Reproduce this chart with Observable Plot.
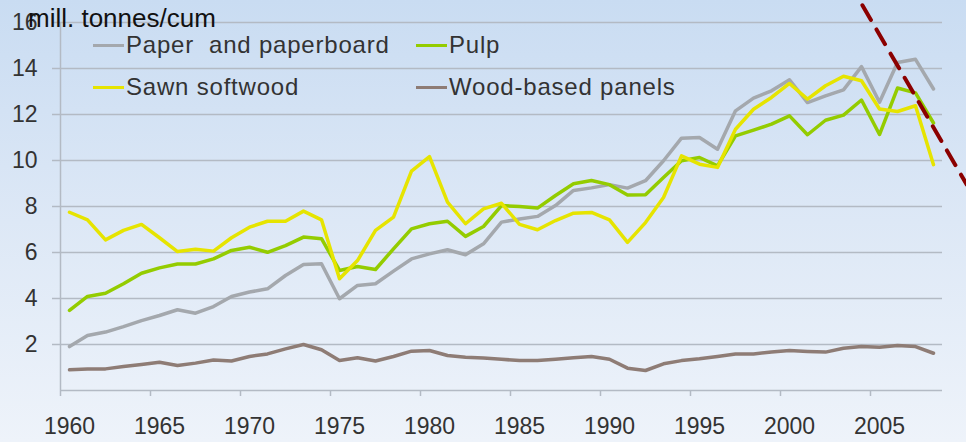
<!DOCTYPE html>
<html><head><meta charset="utf-8">
<script src="https://cdn.jsdelivr.net/npm/d3@7"></script>
<script src="https://cdn.jsdelivr.net/npm/@observablehq/plot@0.6"></script>
<style>
html,body{margin:0;padding:0;}
body{width:966px;height:442px;overflow:hidden;background:linear-gradient(180deg,#c9dcf2 0%,#dde8f6 50%,#eef3fa 100%);font-family:"Liberation Sans",Arial,sans-serif;}
#wrap{position:relative;width:966px;height:442px;}
#chart svg{display:block;background:transparent;}
.title{position:absolute;left:28px;top:5px;font-size:26px;line-height:26px;color:#111;white-space:pre;}
.leg{position:absolute;font-size:24px;line-height:24px;letter-spacing:0.8px;color:#333;white-space:pre;}
.sw{position:absolute;height:3px;width:31px;}
</style></head>
<body><div id="wrap"><div id="chart"></div></div>
<script>
const years = [1960,1961,1962,1963,1964,1965,1966,1967,1968,1969,
  1970,1971,1972,1973,1974,1975,1976,1977,1978,1979,
  1980,1981,1982,1983,1984,1985,1986,1987,1988,1989,
  1990,1991,1992,1993,1994,1995,1996,1997,1998,1999,
  2000,2001,2002,2003,2004,2005,2006,2007,2008];
const paper = [1.91,2.39,2.54,2.78,3.04,3.26,3.51,3.36,3.65,4.09,
  4.28,4.42,5.0,5.48,5.51,3.99,4.57,4.64,5.19,5.72,
  5.94,6.12,5.9,6.38,7.32,7.46,7.57,8.04,8.7,8.81,
  8.95,8.8,9.12,9.99,10.97,11.0,10.49,12.16,12.71,13.03,
  13.51,12.52,12.81,13.07,14.08,12.53,14.26,14.4,13.11];
const pulp = [3.48,4.09,4.23,4.64,5.1,5.33,5.5,5.5,5.72,6.09,
  6.23,6.01,6.3,6.67,6.6,5.22,5.39,5.26,6.16,7.03,
  7.25,7.36,6.7,7.13,8.04,8.0,7.93,8.48,8.99,9.13,
  8.95,8.5,8.51,9.26,9.99,10.13,9.77,11.07,11.32,11.58,
  11.94,11.12,11.75,11.97,12.63,11.13,13.15,12.94,11.63];
const sawn = [7.75,7.42,6.55,6.96,7.22,6.64,6.04,6.14,6.06,6.64,
  7.1,7.36,7.36,7.8,7.42,4.86,5.65,6.96,7.54,9.54,
  10.17,8.19,7.25,7.9,8.14,7.22,6.99,7.39,7.71,7.74,
  7.42,6.44,7.3,8.39,10.2,9.84,9.7,11.36,12.23,12.74,
  13.35,12.67,13.25,13.66,13.47,12.24,12.13,12.38,9.82];
const panels = [0.9,0.94,0.94,1.04,1.13,1.23,1.09,1.19,1.33,1.28,
  1.48,1.59,1.81,2.0,1.77,1.3,1.42,1.28,1.48,1.71,
  1.74,1.52,1.45,1.41,1.36,1.3,1.3,1.36,1.42,1.48,
  1.36,0.97,0.87,1.16,1.3,1.38,1.48,1.59,1.59,1.67,
  1.74,1.7,1.67,1.84,1.91,1.88,1.96,1.91,1.62];
const seriesNames = ["Paper  and paperboard","Pulp","Sawn softwood","Wood-based panels"];
const seriesColors = ["#a4a8ad","#94cc00","#e6e400","#8e7c75"];
const xTickLabels = [1960,1965,1970,1975,1980,1985,1990,1995,2000,2005];
const yTickLabels = [2,4,6,8,10,12,14,16];
const unitLabel = "mill. tonnes/cum";
// annotation: dashed trend arrow (year, value)
const dashYears = [2004.05, 2009.85];
const dashValues = [16.75, 8.95];

const seriesValues = [paper, pulp, sawn, panels];
const rows = seriesNames.flatMap((name, s) => years.map((yr, i) => ({year: yr, value: seriesValues[s][i], series: name})));
const dash = dashYears.map((d, i) => ({year: d, value: dashValues[i]}));
const boundaries = xTickLabels.map(d => d - 0.5);
const gridColor = "#b3bac4";

const chart = Plot.plot({
  width: 966, height: 442,
  marginLeft: 60, marginRight: 24, marginTop: 22, marginBottom: 52,
  style: {background: "transparent", fontFamily: "Liberation Sans, Arial, sans-serif", fontSize: "23px", color: "#333"},
  x: {domain: [years[0] - 0.5, years[years.length - 1] + 0.5]},
  y: {domain: [0, 16]},
  color: {domain: seriesNames, range: seriesColors},
  marks: [
    Plot.gridY(yTickLabels, {stroke: gridColor, strokeOpacity: 1, strokeWidth: 1.5}),
    Plot.ruleY([0], {stroke: gridColor, strokeWidth: 1.5}),
    Plot.ruleX([years[0] - 0.5], {stroke: gridColor, strokeWidth: 1.5}),
    Plot.axisY(yTickLabels, {tickSize: 8, tickPadding: 15, stroke: gridColor, strokeWidth: 1.5, fill: "#333", fontSize: 23, label: null}),
    Plot.axisX(xTickLabels, {tickSize: 0, tickPadding: 27, fill: "#333", fontSize: 23, label: null, tickFormat: d => String(d)}),
    Plot.axisX(boundaries, {tickSize: 6, stroke: gridColor, strokeWidth: 1.5, tickFormat: () => "", label: null}),
    Plot.line(rows, {x: "year", y: "value", z: "series", stroke: "series", strokeWidth: 3.5, strokeLinejoin: "round"}),
    Plot.line(dash, {x: "year", y: "value", stroke: "#8b0000", strokeWidth: 4, strokeDasharray: "17,11"})
  ]
});
const wrap = document.getElementById("wrap");
document.getElementById("chart").appendChild(chart);

const t = document.createElement("div");
t.className = "title"; t.textContent = unitLabel; wrap.appendChild(t);

// legend layout: 2 columns x 2 rows
const legPos = [[93, 45], [416, 45], [93, 87], [416, 87]];
seriesNames.forEach((name, i) => {
  const [lx, ly] = legPos[i];
  const sw = document.createElement("div");
  sw.className = "sw"; sw.style.left = lx + "px"; sw.style.top = (ly - 1.5) + "px"; sw.style.background = seriesColors[i];
  wrap.appendChild(sw);
  const tx = document.createElement("div");
  tx.className = "leg"; tx.textContent = name; tx.style.left = (lx + 33) + "px"; tx.style.top = (ly - 12.5) + "px";
  wrap.appendChild(tx);
});
</script></body></html>
